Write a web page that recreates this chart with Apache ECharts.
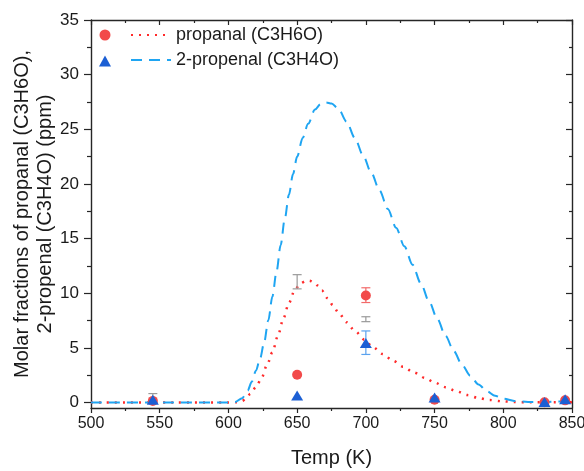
<!DOCTYPE html>
<html>
<head>
<meta charset="utf-8">
<script src="https://cdn.jsdelivr.net/npm/echarts@6/dist/echarts.min.js"></script>
<style>
html,body{margin:0;padding:0;background:#fff;}
#chart{width:584px;height:471px;}
</style>
</head>
<body>
<div id="chart"></div>
<script>
// ---- data ----
const xTicks = [500, 550, 600, 650, 700, 750, 800, 850];
const yMajorTicks = [0, 5, 10, 15, 20, 25, 30, 35];
const yMinorTicks = [2.5, 7.5, 12.5, 17.5, 22.5, 27.5, 32.5];

// propanal model curve (dotted red)
const propanalModel = [
  [500,0],[560,0],[600,0],[606,0.03],[610,0.15],[613,0.4],[616,0.8],[620,1.4],[624,2.2],
  [628,3.4],[632,4.6],[636,6.1],[640,7.7],[644,9.1],[648,10.2],[652,10.85],[656,11.1],
  [659,11.15],[662,11.0],[665,10.7],[668,10.25],[672,9.55],[676,8.9],[680,8.25],[686,7.35],
  [692,6.55],[699,5.75],[705,5.1],[712,4.45],[720,3.81],[727,3.28],[735,2.75],[743,2.25],
  [750,1.83],[758,1.4],[766,1.03],[774,0.68],[782,0.41],[790,0.23],[799,0.12],[808,0.05],
  [820,0.02],[850,0.02]
];
// 2-propenal model curve (dashed blue)
const propenalModel = [
  [500,0],[560,0],[600,0],[605,0.05],[610,0.4],[614,1.1],[617,1.9],[620,2.9],[623,4.0],
  [626,5.5],[629,7.5],[632,9.7],[635,12.0],[638,14.4],[641,16.8],[644,19.0],[647,20.9],
  [650,22.5],[654,24.2],[658,25.5],[663,26.8],[667,27.3],[671,27.45],[675,27.35],[680,26.9],
  [686,25.7],[692,24.2],[698,22.6],[704,21.0],[710,19.4],[716,17.7],[722,16.0],[728,14.3],
  [734,12.6],[740,10.9],[746,9.25],[752,7.65],[758,6.1],[764,4.7],[770,3.45],[776,2.45],
  [782,1.65],[788,1.05],[794,0.62],[800,0.35],[808,0.15],[818,0.05],[830,0.05],[840,0.1],[850,0.15]
];
// experimental points
const propanalExp = [[545,0.15],[650,2.55],[700,9.8],[750,0.25],[830,0.02],[845,0.2]];
const propenalExp = [[545,0.25],[650,0.65],[700,5.45],[750,0.45],[830,0.05],[845,0.3]];
// error bars [x, low, high]
const propanalErr = [[700,9.15,10.5]];
const propenalErr = [[700,4.4,6.55]];
const otherErr = [[545,0.0,0.82],[650,10.4,11.7],[700,7.4,7.85]];

const names = {
  propanal: 'propanal (C3H6O)',
  propenal: '2-propenal (C3H4O)',
  propanalExp: 'propanal exp',
  propenalExp: '2-propenal exp'
};

// ---- styles ----
const FONT = "'Liberation Sans', Arial, sans-serif";
const AX = '#262626';
const RED = '#ff2a2a';
const RED_PT = '#f24a4a';
const BLUE_LINE = '#1fa5f2';
const BLUE_PT = '#1c5fd4';

function errRender(color) {
  return function (params, api) {
    const x = api.value(0), lo = api.value(1), hi = api.value(2);
    const p1 = api.coord([x, lo]), p2 = api.coord([x, hi]);
    const w = 4.5;
    const st = { stroke: color, lineWidth: 1.2 };
    return {
      type: 'group',
      children: [
        { type: 'line', shape: { x1: p1[0], y1: p1[1], x2: p2[0], y2: p2[1] }, style: st },
        { type: 'line', shape: { x1: p1[0] - w, y1: p1[1], x2: p1[0] + w, y2: p1[1] }, style: st },
        { type: 'line', shape: { x1: p2[0] - w, y1: p2[1], x2: p2[0] + w, y2: p2[1] }, style: st }
      ]
    };
  };
}

const lineAxisStyle = { show: true, onZero: false, lineStyle: { color: AX, width: 1.4 } };
const yMin = -0.5, yMax = 35;

const option = {
  animation: false,
  backgroundColor: '#fff',
  textStyle: { fontFamily: FONT },
  grid: { left: 91, right: 12, top: 20, bottom: 63, containLabel: false, outerBoundsMode: 'none' },
  legend: [
    {
      data: [names.propanal, names.propenal],
      orient: 'vertical', left: 125, top: 20,
      itemWidth: 40, itemHeight: 14, itemGap: 5,
      selectedMode: false,
      itemStyle: { opacity: 0 },
      textStyle: { fontSize: 18, color: '#1a1a1a', fontFamily: FONT, lineHeight: 20 }
    },
    {
      data: [names.propanalExp, names.propenalExp],
      orient: 'vertical', left: 94, top: 24.5,
      itemWidth: 12, itemHeight: 11, itemGap: 15,
      selectedMode: false,
      formatter: function () { return ''; },
      textStyle: { fontSize: 10, lineHeight: 11 }
    }
  ],
  xAxis: [
    {
      type: 'value', min: 500, max: 850, interval: 50, position: 'bottom',
      axisLine: lineAxisStyle,
      axisTick: { show: true, length: 5, lineStyle: { color: AX, width: 1.2 } },
      minorTick: { show: true, splitNumber: 2, length: 3, lineStyle: { color: AX, width: 1.2 } },
      axisLabel: { fontSize: 16, color: '#1a1a1a', margin: 8, fontFamily: FONT },
      splitLine: { show: false },
      name: 'Temp (K)', nameLocation: 'middle', nameGap: 40, nameMoveOverlap: false,
      nameTextStyle: { fontSize: 20, color: '#1a1a1a', fontFamily: FONT }
    },
    {
      type: 'value', min: 500, max: 850, interval: 50, position: 'top',
      axisLine: lineAxisStyle,
      axisTick: { show: true, inside: true, length: 5, lineStyle: { color: AX, width: 1.2 } },
      minorTick: { show: true, splitNumber: 2, length: 3, lineStyle: { color: AX, width: 1.2 } },
      axisLabel: { show: false },
      splitLine: { show: false }
    }
  ],
  yAxis: [
    {
      type: 'value', min: yMin, max: yMax, position: 'left',
      axisLine: lineAxisStyle,
      axisTick: { show: true, length: 7, customValues: yMajorTicks, lineStyle: { color: AX, width: 1.2 } },
      axisLabel: { customValues: yMajorTicks, fontSize: 17, color: '#1a1a1a', margin: 12, fontFamily: FONT },
      splitLine: { show: false },
      name: 'Molar fractions of propanal (C3H6O),\n2-propenal (C3H4O) (ppm)',
      nameLocation: 'middle', nameRotate: 90, nameGap: 34, nameMoveOverlap: false,
      nameTextStyle: { fontSize: 20, color: '#1a1a1a', fontFamily: FONT, lineHeight: 23 }
    },
    {
      type: 'value', min: yMin, max: yMax, position: 'left',
      axisLine: { show: false },
      axisTick: { show: true, length: 4, customValues: yMinorTicks, lineStyle: { color: AX, width: 1.2 } },
      axisLabel: { show: false },
      splitLine: { show: false }
    },
    {
      type: 'value', min: yMin, max: yMax, position: 'right',
      axisLine: lineAxisStyle,
      axisTick: { show: true, inside: true, length: 6, customValues: yMajorTicks, lineStyle: { color: AX, width: 1.2 } },
      axisLabel: { show: false },
      splitLine: { show: false }
    },
    {
      type: 'value', min: yMin, max: yMax, position: 'right',
      axisLine: { show: false },
      axisTick: { show: true, inside: true, length: 3, customValues: yMinorTicks, lineStyle: { color: AX, width: 1.2 } },
      axisLabel: { show: false },
      splitLine: { show: false }
    }
  ],
  series: [
    {
      name: names.propanal, type: 'line', data: propanalModel, symbol: 'none',
      smooth: 0.3, smoothMonotone: 'x', z: 2,
      lineStyle: { color: RED, width: 2.5, type: [2, 6] },
      itemStyle: { color: RED }
    },
    {
      name: names.propenal, type: 'line', data: propenalModel, symbol: 'none',
      smooth: 0.3, smoothMonotone: 'x', z: 2,
      lineStyle: { color: BLUE_LINE, width: 2, type: [11, 7] },
      itemStyle: { color: BLUE_LINE }
    },
    {
      type: 'custom', data: otherErr, renderItem: errRender('#9a9a9a'),
      encode: { x: 0, y: [1, 2] }, clip: false, z: 3, silent: true
    },
    {
      type: 'custom', data: propanalErr, renderItem: errRender('#f26a6a'),
      encode: { x: 0, y: [1, 2] }, clip: false, z: 3, silent: true
    },
    {
      type: 'custom', data: propenalErr, renderItem: errRender('#5aa2ee'),
      encode: { x: 0, y: [1, 2] }, clip: false, z: 3, silent: true
    },
    {
      name: names.propanalExp, type: 'scatter', data: propanalExp,
      symbol: 'circle', symbolSize: 10, z: 4,
      itemStyle: { color: RED_PT, opacity: 1 }
    },
    {
      name: names.propenalExp, type: 'scatter', data: propenalExp,
      symbol: 'triangle', symbolSize: [12, 10], z: 5,
      itemStyle: { color: BLUE_PT, opacity: 1 }
    }
  ]
};

const chart = echarts.init(document.getElementById('chart'), null, { renderer: 'canvas' });
chart.setOption(option);
</script>
</body>
</html>
